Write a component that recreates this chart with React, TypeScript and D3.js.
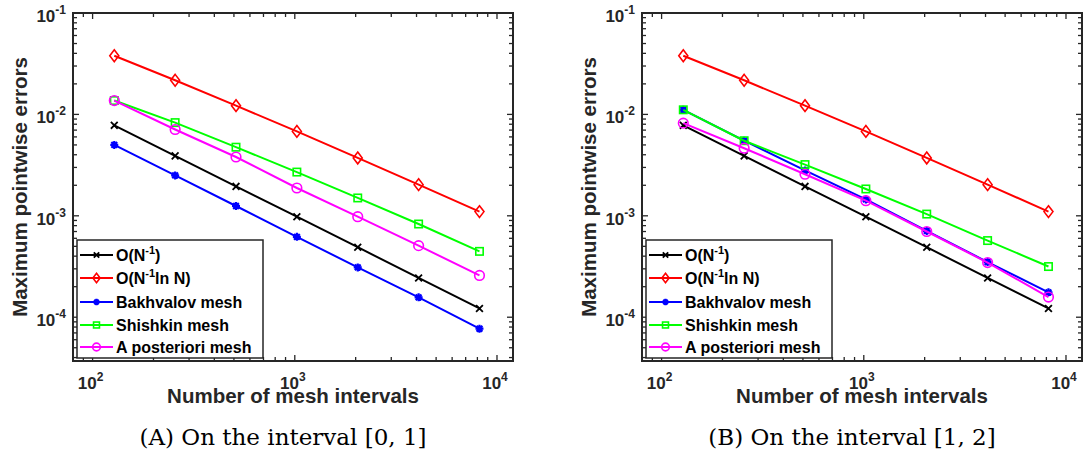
import * as d3 from 'd3'

// mesh sizes and errors
const meshN = [128, 256, 512, 1024, 2048, 4096, 8192]
const refN1 = [0.0078, 0.0039, 0.00195, 0.00098, 0.00049, 0.000244, 0.000122]
const refLnN = [0.0379, 0.0217, 0.0122, 0.0068, 0.00372, 0.00203, 0.0011]
const bakhvalovA = [0.005, 0.0025, 0.00125, 0.00062, 0.00031, 0.000157, 0.000077]
const shishkinA = [0.0137, 0.0083, 0.00475, 0.0027, 0.0015, 0.00083, 0.000446]
const posterioriA = [0.0137, 0.0071, 0.0038, 0.00188, 0.00098, 0.000508, 0.000258]
const bakhvalovB = [0.0111, 0.0055, 0.0028, 0.00145, 0.00071, 0.00035, 0.000176]
const shishkinB = [0.0111, 0.0055, 0.0032, 0.00184, 0.00104, 0.00057, 0.000316]
const posterioriB = [0.0082, 0.00464, 0.00257, 0.00141, 0.0007, 0.000346, 0.000158]

const xMajor = [100, 1000, 10000]
const xMajorExp = ['2', '3', '4']
const yMajor = [1e-4, 1e-3, 1e-2, 1e-1]
const yMajorExp = ['-4', '-3', '-2', '-1']
const xLimits = [80, 12000]
const yLimits = [3.7e-5, 0.1]

const legendNames = ['O(N^-1)', 'O(N^-1 ln N)', 'Bakhvalov mesh', 'Shishkin mesh', 'A posteriori mesh']
const seriesColors = ['#000000', '#ff0000', '#0000ff', '#00ff00', '#ff00ff']
const seriesMarkers = ['x', 'diamond', 'star', 'square', 'circle']

const AX = '#262626'
const SANS = '"Liberation Sans", Arial, Helvetica, sans-serif'

function Marker({ kind, x, y, color, s = 1 }) {
  const sw = 1.6
  if (kind === 'circle') return <circle cx={x} cy={y} r={4.8 * s} fill="none" stroke={color} strokeWidth={sw} />
  if (kind === 'square') {
    const h = 3.7 * s
    return <rect x={x - h} y={y - h} width={2 * h} height={2 * h} fill="none" stroke={color} strokeWidth={sw} />
  }
  if (kind === 'diamond') {
    const w = 4.5 * s, h = 5.9 * s
    return <path d={`M${x},${y - h}L${x + w},${y}L${x},${y + h}L${x - w},${y}Z`} fill="none" stroke={color} strokeWidth={sw} />
  }
  if (kind === 'x') {
    const h = 3.4 * s
    return <path d={`M${x - h},${y - h}L${x + h},${y + h}M${x - h},${y + h}L${x + h},${y - h}`} stroke={color} strokeWidth={1.8} />
  }
  const h = 4 * s, d = h * 0.72
  return <path d={`M${x - h},${y}L${x + h},${y}M${x},${y - h}L${x},${y + h}M${x - d},${y - d}L${x + d},${y + d}M${x - d},${y + d}L${x + d},${y - d}`} stroke={color} strokeWidth={2.2} />
}

function Panel({ left, series, caption }) {
  const top = 13, bottom = 361, width = 440
  const x = d3.scaleLog().domain(xLimits).range([left, left + width])
  const y = d3.scaleLog().domain(yLimits).range([bottom, top])
  const line = d3.line().x((d: any) => x(d[0])).y((d: any) => y(d[1]))
  const xTicks = x.ticks()
  const yTicks = y.ticks()
  const isMajor = (v) => Math.abs(Math.log10(v) - Math.round(Math.log10(v))) < 1e-9
  const right = left + width
  const cx = left + width / 2
  const lgX = left + 4, lgY = 240, lgW = 186, lgH = 118
  const rowY = [255, 278, 302, 325, 347]

  return (
    <g>
      {series.map((vals, i) => (
        <g key={i}>
          <path d={line(meshN.map((n, j) => [n, vals[j]]) as any)} fill="none" stroke={seriesColors[i]} strokeWidth={2} />
          {meshN.map((n, j) => (
            <Marker key={j} kind={seriesMarkers[i]} x={x(n)} y={y(vals[j])} color={seriesColors[i]} />
          ))}
        </g>
      ))}

      {/* ticks, all four sides pointing inward */}
      {xTicks.map((t, i) => {
        const L = isMajor(t) ? 6 : 4
        return (
          <g key={'x' + i} stroke={AX} strokeWidth={1.3}>
            <line x1={x(t)} x2={x(t)} y1={bottom} y2={bottom - L} />
            <line x1={x(t)} x2={x(t)} y1={top} y2={top + L} />
          </g>
        )
      })}
      {yTicks.map((t, i) => {
        const L = isMajor(t) ? 6 : 4
        return (
          <g key={'y' + i} stroke={AX} strokeWidth={1.3}>
            <line x1={left} x2={left + L} y1={y(t)} y2={y(t)} />
            <line x1={right} x2={right - L} y1={y(t)} y2={y(t)} />
          </g>
        )
      })}
      <rect x={left} y={top} width={width} height={bottom - top} fill="none" stroke={AX} strokeWidth={2} />

      <g fontFamily={SANS} fontWeight="bold" fill={AX}>
        {yMajor.map((t, i) => (
          <text key={i} x={left - 7} y={y(t) + 9} textAnchor="end" fontSize={17}>
            10<tspan fontSize={12} dy={-8}>{yMajorExp[i]}</tspan>
          </text>
        ))}
        {xMajor.map((t, i) => (
          <text key={i} x={x(t) - 2} y={389} textAnchor="middle" fontSize={17}>
            10<tspan fontSize={12} dy={-8}>{xMajorExp[i]}</tspan>
          </text>
        ))}
        <text x={cx} y={403} textAnchor="middle" fontSize={20.5}>Number of mesh intervals</text>
        <text transform={`translate(${left - 46},${(top + bottom) / 2}) rotate(-90)`} textAnchor="middle" fontSize={20.5}>
          Maximum pointwise errors
        </text>
      </g>

      {/* legend */}
      <rect x={lgX} y={lgY} width={lgW} height={lgH} fill="#fff" stroke={AX} strokeWidth={1.5} />
      <g fontFamily={SANS} fontWeight="bold" fontSize={16} fill="#000">
        {legendNames.map((name, i) => {
          const ry = rowY[i]
          let label
          if (i === 0) label = <>O(N<tspan fontSize={11} dy={-7}>-1</tspan><tspan dy={7}>)</tspan></>
          else if (i === 1) label = <>O(N<tspan fontSize={11} dy={-7}>-1</tspan><tspan dy={7}>ln N)</tspan></>
          else label = name
          return (
            <g key={i}>
              <line x1={lgX + 3} x2={lgX + 36} y1={ry} y2={ry} stroke={seriesColors[i]} strokeWidth={2} />
              <Marker kind={seriesMarkers[i]} x={lgX + 19.5} y={ry} color={seriesColors[i]} s={0.8} />
              <text x={lgX + 39} y={ry + 6}>{label}</text>
            </g>
          )
        })}
      </g>

      <text x={cx - 10} y={445} textAnchor="middle" fontFamily='"DejaVu Serif", "Liberation Serif", serif' fontSize={23} fill="#000">
        {caption}
      </text>
    </g>
  )
}

export default function App() {
  return (
    <svg width={1085} height={459} style={{ position: 'absolute', left: 0, top: 0, background: '#fff' }}>
      <rect width={1085} height={459} fill="#fff" />
      <Panel left={73} series={[refN1, refLnN, bakhvalovA, shishkinA, posterioriA]} caption="(A) On the interval [0, 1]" />
      <Panel left={642} series={[refN1, refLnN, bakhvalovB, shishkinB, posterioriB]} caption="(B) On the interval [1, 2]" />
    </svg>
  )
}
